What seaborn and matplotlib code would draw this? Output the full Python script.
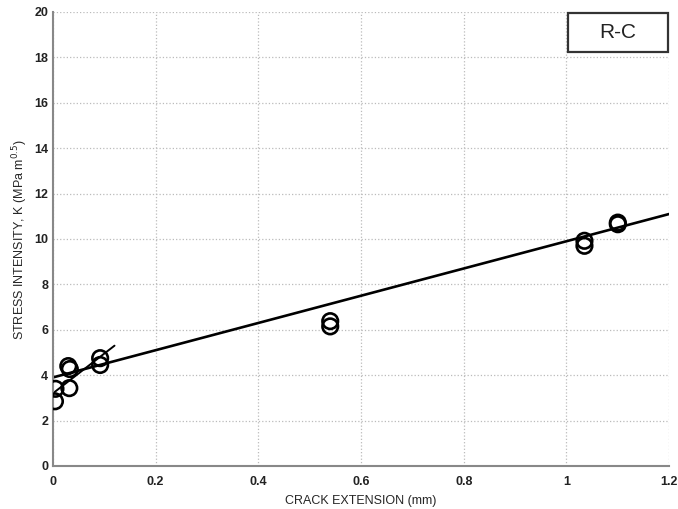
import numpy as np
import pandas as pd
import matplotlib
matplotlib.use('Agg')
import matplotlib.pyplot as plt
import seaborn as sns
from matplotlib.patches import Rectangle

# measured points
crack_ext = [0.004, 0.005, 0.030, 0.033, 0.032, 0.092, 0.092, 0.540, 0.540, 1.035, 1.035, 1.100, 1.100]
k_values = [2.85, 3.40, 4.40, 4.27, 3.43, 4.75, 4.45, 6.38, 6.15, 9.92, 9.70, 10.72, 10.65]

# fitted lines (end points)
fit_long_x = [0.0, 1.2]
fit_long_y = [3.9, 11.1]
fit_short_x = [0.0, 0.12]
fit_short_y = [3.2, 5.3]

xticks = [0, 0.2, 0.4, 0.6, 0.8, 1, 1.2]
xtick_labels = ['0', '0.2', '0.4', '0.6', '0.8', '1', '1.2']
yticks = list(range(0, 21, 2))

sns.set_style('white')
plt.rcParams['font.family'] = ['Liberation Sans', 'DejaVu Sans']

fig = plt.figure(figsize=(6.78, 5.09), dpi=100)
ax = fig.add_axes([0.078, 0.0845, 0.909, 0.892])

df = pd.DataFrame({'x': crack_ext, 'k': k_values})
sns.lineplot(x=fit_long_x, y=fit_long_y, color='black', lw=1.9, ax=ax)
sns.lineplot(x=fit_short_x, y=fit_short_y, color='black', lw=1.4, ax=ax)
sns.scatterplot(data=df, x='x', y='k', marker='o', s=125, facecolor='none',
                edgecolor='black', linewidth=1.9, ax=ax, zorder=5)

ax.set_xlim(0, 1.2)
ax.set_ylim(0, 20)
ax.set_xticks(xticks)
ax.set_xticklabels(xtick_labels)
ax.set_yticks(yticks)
ax.grid(True, linestyle=':', color='#bbbbbb', lw=0.9)
ax.tick_params(direction='in', length=4, labelsize=9, colors='#222222', width=0.8)
ax.tick_params(axis='x', pad=7)
for lab in ax.get_xticklabels() + ax.get_yticklabels():
    lab.set_fontweight('semibold')
for s in ['top', 'right']:
    ax.spines[s].set_visible(False)
for s in ['left', 'bottom']:
    ax.spines[s].set_color('#888888')
    ax.spines[s].set_linewidth(1.5)

ax.set_xlabel('CRACK EXTENSION (mm)', fontsize=9, labelpad=5)
ax.set_ylabel('STRESS INTENSITY, K (MPa m$^{0.5}$)', fontsize=9, labelpad=3)

ax.add_patch(Rectangle((0.836, 0.911), 0.162, 0.087, transform=ax.transAxes,
                       facecolor='white', edgecolor='#333333', lw=1.6, zorder=6, clip_on=False))
ax.text(0.917, 0.9545, 'R-C', transform=ax.transAxes, ha='center', va='center',
        fontsize=15, color='#222222', zorder=7)

fig.savefig('out.png', dpi=100)
